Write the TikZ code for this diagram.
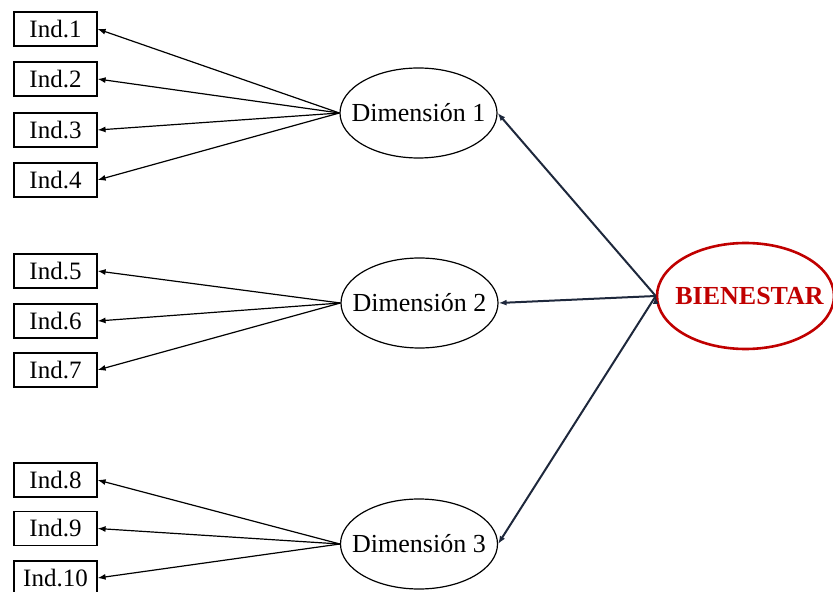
\documentclass[tikz,border=0pt]{standalone}
\usepackage{fontspec}
\setmainfont{Liberation Serif}
\usepackage{tikz}
\usetikzlibrary{shapes.geometric,positioning,arrows.meta}

\definecolor{bienred}{RGB}{192,0,0}
\definecolor{navy}{RGB}{30,40,60}

\begin{document}
\begin{tikzpicture}[x=0.5pt,y=-0.5pt,on grid,>={Latex[length=4pt,width=3pt]},
		font=\fontsize{12.5}{15}\selectfont,
		ind/.style={draw,rectangle,minimum width=41.5pt,minimum height=17pt,inner sep=0pt,line width=0.6pt},
		dim/.style={draw,ellipse,minimum width=78.5pt,minimum height=45pt,inner xsep=-10pt,inner ysep=0pt,line width=0.6pt,font=\fontsize{13}{15}\selectfont},
		bien/.style={draw=bienred,ellipse,minimum width=88.5pt,minimum height=53pt,inner xsep=-12pt,inner ysep=0pt,line width=1.3pt,text=bienred,font=\fontsize{13}{15}\selectfont\bfseries}]
	\useasboundingbox (0,0) rectangle (833,592);
	% dimensiones y bienestar
	\node[dim] (d1) at (418.5,113) {Dimensión 1};
	\node[dim] (d2) at (419.5,303) {Dimensión 2};
	\node[dim] (d3) at (419,544) {Dimensión 3};
	\node[bien] (b) at (745.5,296) {\hspace*{4pt}BIENESTAR};
	% indicadores
	\node[ind] (i1) at (55.5,29) {Ind.1};
	\node[ind] (i2) [below=25pt of i1] {Ind.2};
	\node[ind] (i3) [below=25.5pt of i2] {Ind.3};
	\node[ind] (i4) [below=25pt of i3] {Ind.4};
	\node[ind] (i5) at (55.5,271) {Ind.5};
	\node[ind] (i6) [below=25pt of i5] {Ind.6};
	\node[ind] (i7) [below=24.5pt of i6] {Ind.7};
	\node[ind] (i8) at (55.5,480) {Ind.8};
	\node[ind] (i9) [below=24.25pt of i8] {Ind.9};
	\node[ind] (i10) [below=24.75pt of i9] {Ind.10};
	\path[->,line width=0.6pt]
	(d1.west)
	edge (i1.east)
	edge (i2.east)
	edge (i3.east)
	edge (i4.east)
	(d2.west)
	edge (i5.east)
	edge (i6.east)
	edge (i7.east)
	(d3.west)
	edge (i8.east)
	edge (i9.east)
	edge (i10.east);
	\path[->,draw=navy,line width=1pt]
	(b.west)
	edge (d1.east)
	edge (d2.east)
	edge (d3.east);
\end{tikzpicture}
\end{document}
